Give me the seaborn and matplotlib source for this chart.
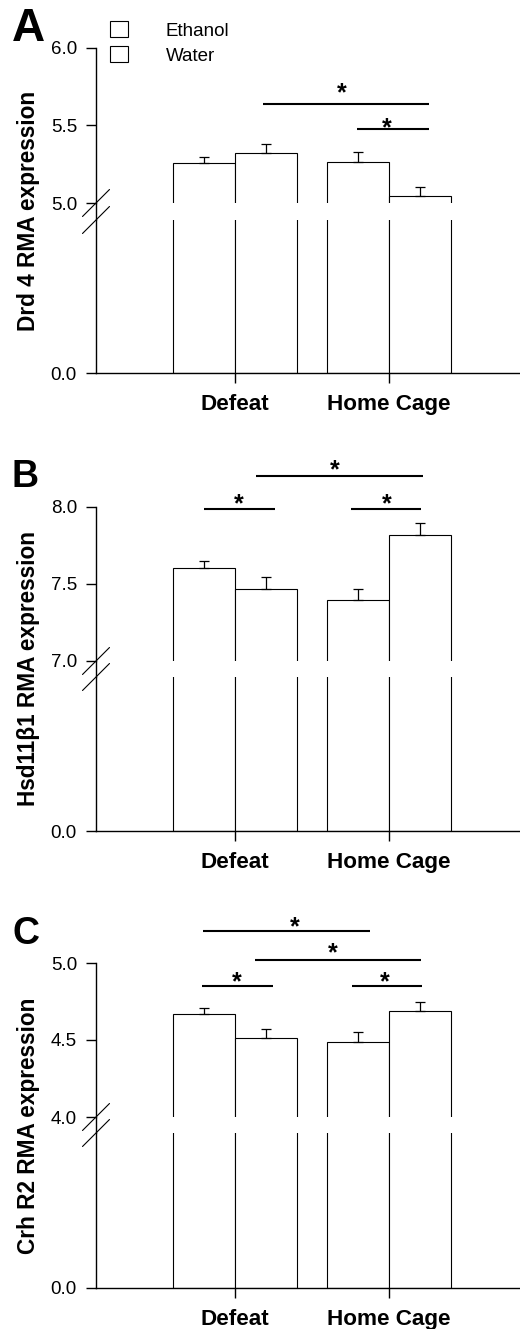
import numpy as np
import pandas as pd
import matplotlib
matplotlib.use("Agg")
import matplotlib.pyplot as plt
import seaborn as sns

# ---------------- data ----------------
categories = ["Defeat", "Home Cage"]
treatments = ["Ethanol", "Water"]

drd4_ethanol = [5.256, 5.262]
drd4_water = [5.321, 5.047]
drd4_ethanol_sem = [0.043, 0.069]
drd4_water_sem = [0.058, 0.058]

hsd_ethanol = [7.606, 7.396]
hsd_water = [7.466, 7.821]
hsd_ethanol_sem = [0.043, 0.072]
hsd_water_sem = [0.079, 0.078]

crh_ethanol = [4.668, 4.489]
crh_water = [4.515, 4.689]
crh_ethanol_sem = [0.037, 0.061]
crh_water_sem = [0.059, 0.055]

# significance bars: (x_start, x_end, y) and stars: (x, y)
drd4_sig_lines = [(0.18, 1.26, 5.64), (0.79, 1.26, 5.477)]
drd4_sig_stars = [(0.695, 5.755), (0.987, 5.53)]
hsd_sig_lines = [(0.136, 1.221, 8.201), (-0.201, 0.260, 7.987), (0.753, 1.208, 7.987)]
hsd_sig_stars = [(0.649, 8.286), (0.026, 8.065), (0.987, 8.065)]
crh_sig_lines = [(-0.208, 0.877, 5.207), (0.130, 1.208, 5.022),
                 (-0.214, 0.247, 4.848), (0.760, 1.214, 4.848)]
crh_sig_stars = [(0.390, 5.279), (0.638, 5.114), (0.011, 4.924), (0.974, 4.924)]

panel_letters = ["A", "B", "C"]
panel_ylabels = ["Drd 4 RMA expression", "Hsd11\u03b21 RMA expression", "Crh R2 RMA expression"]
upper_ticks = [[5.0, 5.5, 6.0], [7.0, 7.5, 8.0], [4.0, 4.5, 5.0]]

panels = [
    (drd4_ethanol, drd4_water, drd4_ethanol_sem, drd4_water_sem, drd4_sig_lines, drd4_sig_stars),
    (hsd_ethanol, hsd_water, hsd_ethanol_sem, hsd_water_sem, hsd_sig_lines, hsd_sig_stars),
    (crh_ethanol, crh_water, crh_ethanol_sem, crh_water_sem, crh_sig_lines, crh_sig_stars),
]

# ---------------- style ----------------
sns.set_style("ticks")
plt.rcParams["font.family"] = ["Liberation Sans", "DejaVu Sans"]
plt.rcParams.update({
    "axes.linewidth": 1.0,
    "axes.edgecolor": "black",
    "text.color": "black",
    "axes.labelcolor": "black",
    "xtick.color": "black",
    "ytick.color": "black",
})

W, H = 520, 1329
fig = plt.figure(figsize=(W / 100, H / 100), dpi=100)

# layout in pixels (top, bottom) for upper and lower segments
layout = [((48, 203), (220, 373)), ((507, 661), (677, 831)), ((963, 1117), (1133, 1288))]
letter_specs = [(41, 33), (487, 27), (944, 27)]
X_LEFT, X_RIGHT = 96, 520
xlim = (-0.9026, 1.8506)

def rect(top, bottom):
    return [X_LEFT / W, 1 - bottom / H, (X_RIGHT - X_LEFT) / W, (bottom - top) / H]

palette = {"Ethanol": "white", "Water": "white"}
first_upper = None

for i, (eth, wat, eth_sem, wat_sem, sig_lines, sig_stars) in enumerate(panels):
    df = pd.DataFrame({
        "group": categories * 2,
        "treatment": [treatments[0]] * 2 + [treatments[1]] * 2,
        "value": list(eth) + list(wat),
    })
    (ut, ub), (lt, lb) = layout[i]
    ax_up = fig.add_axes(rect(ut, ub))
    ax_lo = fig.add_axes(rect(lt, lb))

    sns.barplot(data=df, x="group", y="value", hue="treatment", order=categories,
                hue_order=treatments, palette=palette, edgecolor="black", linewidth=0.8,
                errorbar=None, legend=(i == 0), ax=ax_up)
    sns.barplot(data=df, x="group", y="value", hue="treatment", order=categories,
                hue_order=treatments, palette=palette, edgecolor="black", linewidth=0.8,
                errorbar=None, legend=False, ax=ax_lo)

    # one-sided SEM error bars on the upper segment
    sems = [eth_sem, wat_sem]
    for cont, sem in zip(ax_up.containers, sems):
        xs = [b.get_x() + b.get_width() / 2 for b in cont]
        ys = [b.get_height() for b in cont]
        ax_up.errorbar(xs, ys, yerr=[np.zeros(len(sem)), sem], fmt="none",
                       ecolor="black", elinewidth=0.9, capsize=3.6, capthick=0.9)

    lo_t, mid_t, hi_t = upper_ticks[i]
    ax_up.set_ylim(lo_t, hi_t)
    ax_up.set_xlim(*xlim)
    ax_up.set_yticks(upper_ticks[i])
    ax_up.set_yticklabels([f"{t:.1f}" for t in upper_ticks[i]])
    ax_up.set_xticks([])
    ax_up.set_xlabel("")
    ax_up.set_ylabel("")
    for s in ["top", "right", "bottom"]:
        ax_up.spines[s].set_visible(False)
    ax_up.tick_params(axis="y", direction="out", length=7.2, width=1.0, pad=6.5,
                      labelsize=13.5)

    ax_lo.set_ylim(0, lo_t * 0.8)
    ax_lo.set_xlim(*xlim)
    ax_lo.set_yticks([0.0])
    ax_lo.set_yticklabels(["0.0"])
    ax_lo.set_xticks([0, 1])
    ax_lo.set_xticklabels(categories, fontweight="bold", fontsize=16.2)
    ax_lo.set_xlabel("")
    ax_lo.set_ylabel("")
    for s in ["top", "right"]:
        ax_lo.spines[s].set_visible(False)
    ax_lo.tick_params(axis="y", direction="out", length=7.2, width=1.0, pad=6.5,
                      labelsize=13.5)
    ax_lo.tick_params(axis="x", direction="out", length=7.2, width=1.0, pad=8)

    # significance bars and stars
    for (x0, x1, y) in sig_lines:
        ax_up.plot([x0, x1], [y, y], color="black", lw=1.5, clip_on=False,
                   solid_capstyle="butt")
    for (sx, sy) in sig_stars:
        ax_up.annotate("*", xy=(sx, sy), xytext=(0, -10.4), textcoords="offset points",
                       ha="center", va="baseline", fontsize=18, fontweight="bold",
                       annotation_clip=False)

    # broken-axis marks
    dx = 13.5 / (X_RIGHT - X_LEFT)
    for ax, (t, b), ypos in [(ax_up, (ut, ub), 0.0), (ax_lo, (lt, lb), 1.0)]:
        dy = 13.5 / (b - t)
        ax.plot([-dx, dx], [ypos - dy, ypos + dy], transform=ax.transAxes,
                color="black", lw=0.8, clip_on=False)
    # spine continuation through the gap
    fig.add_artist(plt.Line2D([X_LEFT / W, X_LEFT / W], [1 - ub / H, 1 - lt / H],
                              transform=fig.transFigure, color="black", lw=1.0))

    # y label and panel letter
    fig.text(29 / W, 1 - ((ut + lb) / 2) / H, panel_ylabels[i], rotation=90,
             ha="center", va="center", fontsize=16.3, fontweight="bold")
    base, fsz = letter_specs[i]
    fig.text(12 / W, 1 - base / H, panel_letters[i], ha="left", va="baseline",
             fontsize=fsz, fontweight="bold")

    if i == 0:
        first_upper = ax_up

sns.move_legend(first_upper, loc="upper left", bbox_to_anchor=(110 / W, 1 - 21 / H),
                bbox_transform=fig.transFigure, frameon=False, title=None,
                handlelength=0.96, handleheight=0.96, handletextpad=2.0,
                labelspacing=0.35, borderpad=0, borderaxespad=0, fontsize=13.5)

fig.savefig("out.png", dpi=100)
